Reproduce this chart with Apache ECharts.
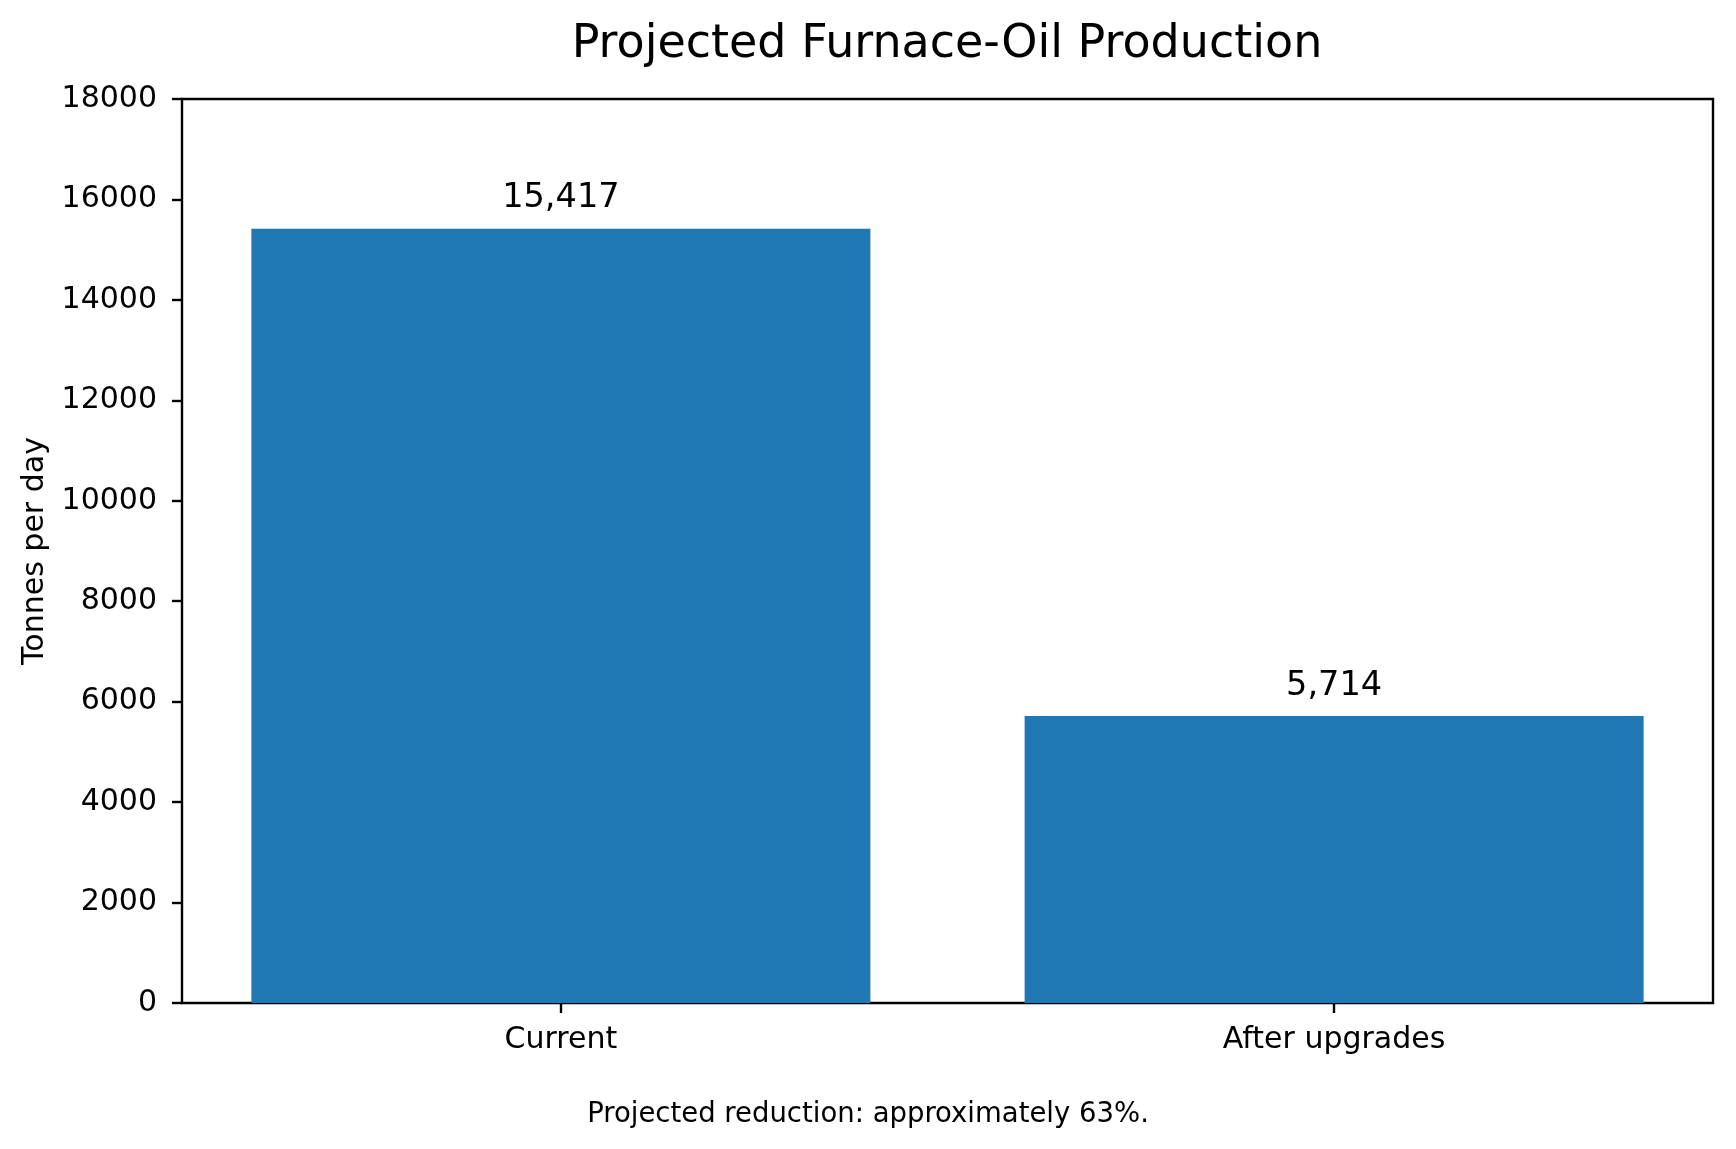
<!DOCTYPE html>
<html>
<head>
<meta charset="utf-8">
<title>Projected Furnace-Oil Production</title>
<script src="https://cdn.jsdelivr.net/npm/echarts@6/dist/echarts.min.js"></script>
<style>
  html, body { margin: 0; padding: 0; background: #fff; }
  #main { width: 1736px; height: 1149px; }
</style>
</head>
<body>
<div id="main"></div>
<script>
// data
var categories = ['Current', 'After upgrades'];
var production = [15417, 5714];
var yTicks = [0, 2000, 4000, 6000, 8000, 10000, 12000, 14000, 16000, 18000];
var noteText = 'Projected reduction: approximately 63%.';

var FONT = '"DejaVu Sans", "Liberation Sans", sans-serif';

var myChart = echarts.init(document.getElementById('main'));

myChart.setOption({
    animation: false,
    backgroundColor: '#fff',
    title: [{
        text: 'Projected Furnace-Oil Production',
        left: 947,
        top: 22,
        padding: 0,
        textAlign: 'center',
        textStyle: { fontFamily: FONT, fontSize: 46, fontWeight: 'normal', color: '#000' }
    }, {
        text: noteText,
        left: 'center',
        top: 1101,
        padding: 0,
        textStyle: { fontFamily: FONT, fontSize: 27.5, fontWeight: 'normal', color: '#000' }
    }],
    grid: {
        left: 182,
        right: 23,
        top: 99,
        bottom: 146,
        show: true,
        borderColor: '#000',
        borderWidth: 2.4,
        backgroundColor: 'transparent'
    },
    xAxis: {
        type: 'value',
        // matplotlib style margins round the two bars
        min: -0.49,
        max: 1.49,
        splitLine: { show: false },
        axisLine: { show: false, onZero: false },
        axisTick: {
            show: true,
            length: 10,
            customValues: [0, 1],
            lineStyle: { color: '#000', width: 2.4 }
        },
        axisLabel: {
            customValues: [0, 1],
            margin: 22,
            fontFamily: FONT,
            fontSize: 30,
            color: '#000',
            formatter: function (v) {
                return categories[Math.round(v)];
            }
        }
    },
    yAxis: {
        type: 'value',
        min: yTicks[0],
        max: yTicks[yTicks.length - 1],
        interval: 2000,
        name: 'Tonnes per day',
        nameLocation: 'middle',
        nameGap: 130,
        nameTextStyle: { fontFamily: FONT, fontSize: 30, color: '#000' },
        splitLine: { show: false },
        axisLine: { show: false, onZero: false },
        axisTick: {
            show: true,
            length: 10,
            lineStyle: { color: '#000', width: 2.4 }
        },
        axisLabel: {
            margin: 25,
            fontFamily: FONT,
            fontSize: 30,
            color: '#000',
            formatter: function (v) {
                return String(v);
            }
        }
    },
    series: [{
        type: 'bar',
        barWidth: 619,
        data: production.map(function (v, i) {
            return [i, v];
        }),
        itemStyle: { color: '#1f77b4' },
        label: {
            show: true,
            position: 'top',
            distance: 13,
            fontFamily: FONT,
            fontSize: 33.6,
            color: '#000',
            formatter: function (p) {
                return p.value[1].toLocaleString('en-US');
            }
        }
    }]
});
</script>
</body>
</html>
